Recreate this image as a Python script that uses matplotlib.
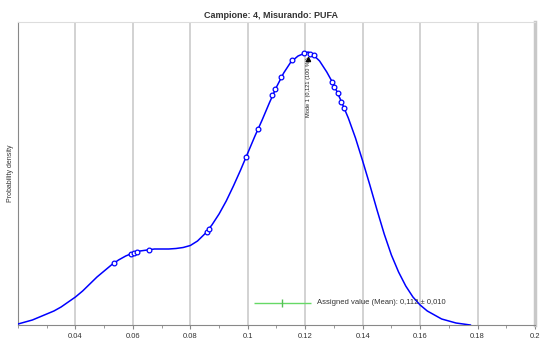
import matplotlib
matplotlib.use("Agg")
import matplotlib.pyplot as plt
from matplotlib.ticker import MultipleLocator

plt.rcParams['font.family'] = ['Liberation Sans', 'DejaVu Sans']

# density curve (arbitrary units, peak ~273)
curve_x = [0.0200, 0.0225, 0.0250, 0.0275, 0.0300, 0.0325, 0.0350, 0.0375, 0.0400, 0.0425,
           0.0450, 0.0475, 0.0500, 0.0525, 0.0550, 0.0575, 0.0600, 0.0625, 0.0650, 0.0675,
           0.0700, 0.0725, 0.0750, 0.0775, 0.0800, 0.0825, 0.0850, 0.0875, 0.0900, 0.0925,
           0.0950, 0.0975, 0.1000, 0.1025, 0.1050, 0.1075, 0.1100, 0.1125, 0.1150, 0.1175,
           0.1200, 0.1210, 0.1225, 0.1250, 0.1275, 0.1300, 0.1325, 0.1350, 0.1375, 0.1400,
           0.1425, 0.1450, 0.1475, 0.1500, 0.1525, 0.1550, 0.1575, 0.1600, 0.1625, 0.1650,
           0.1675, 0.1700, 0.1725, 0.1750, 0.1775]
curve_y = [1, 3, 5, 8, 11, 14, 18, 23, 28, 34,
           41, 48, 54, 60, 65, 69, 72, 74, 75, 76,
           76, 76, 76.5, 77.5, 79.5, 84, 91, 100, 111, 124,
           139, 155, 172, 189, 205, 222, 238, 252, 263, 269,
           272, 273, 271, 264, 253, 240, 224, 207, 187, 164,
           140, 115, 91, 70, 53, 39, 28, 20, 14, 10,
           6, 4, 2, 1, 0]

# laboratory results (markers on the curve)
results_x = [0.0534, 0.0593, 0.0604, 0.0614, 0.0656, 0.0858, 0.0865, 0.0994, 0.1036, 0.1084,
             0.1095, 0.1116, 0.1154, 0.1196, 0.1217, 0.1231, 0.1293, 0.1300, 0.1314, 0.1325,
             0.1335]
results_y = [62, 71, 72, 73, 75, 93, 96, 168, 196, 230,
             236, 248, 265, 272, 271, 270, 243, 238, 232, 223,
             217]

mode_x = 0.121
mode_y = 273
assigned_mean = 0.112
assigned_unc = 0.010

tick_vals = [0.04, 0.06, 0.08, 0.1, 0.12, 0.14, 0.16, 0.18, 0.2]
tick_labels = ["0,04", "0,06", "0,08", "0,1", "0,12", "0,14", "0,16", "0,18", "0,2"]

fig = plt.figure(figsize=(5.42, 3.38), dpi=100)
ax = fig.add_axes([18 / 542, 1 - 325 / 338, (535 - 18) / 542, (325 - 22) / 338])

for v in tick_vals[:-1]:
    ax.axvline(v, color="#cfcfcf", lw=1.3, zorder=0)

ax.plot(curve_x, curve_y, color="#0000ff", lw=1.1, zorder=3)
ax.plot(results_x, results_y, linestyle="none", marker="o", ms=3.4,
        mfc="white", mec="#0000ff", mew=0.9, zorder=4)

# mode label
ax.plot([mode_x], [mode_y - 7], marker="^", color="black", ms=3, zorder=5)
ax.text(mode_x + 0.0002, mode_y - 5, "Mode 1 (0,121 (100 %))", rotation=90,
        ha="center", va="top", fontsize=4.1, color="#222222", zorder=5)

# assigned value
ax.errorbar([assigned_mean], [22], xerr=[assigned_unc], color="#66d966", lw=1,
            capsize=0, zorder=2)
ax.plot([assigned_mean], [22], marker="|", ms=6, color="#55c055", zorder=2)
ax.text(assigned_mean + assigned_unc + 0.002, 22, "Assigned value (Mean): 0,112 \u00b1 0,010",
        fontsize=5.5, color="#333333", va="center", ha="left")

ax.set_xlim(0.02, 0.2)
ax.set_ylim(0, 303)
ax.set_xticks(tick_vals, tick_labels)
ax.xaxis.set_minor_locator(MultipleLocator(0.01))
ax.tick_params(axis="x", which="major", labelsize=5.5, length=3, color="#888888",
               labelcolor="#333333", pad=2)
ax.tick_params(axis="x", which="minor", length=2, color="#888888")
ax.set_yticks([])

ax.spines["left"].set_color("#888888")
ax.spines["bottom"].set_color("#888888")
ax.spines["top"].set_color("#dddddd")
ax.spines["right"].set_color("#c8c8c8")
ax.spines["right"].set_linewidth(2.5)

ax.set_ylabel("Probability density", fontsize=5, color="#333333", labelpad=3)
fig.text(271 / 542, 1 - 15 / 338, "Campione: 4, Misurando: PUFA", ha="center", va="center",
         fontsize=6.5, fontweight="bold", color="#333333")

fig.savefig("out.png", dpi=100)
